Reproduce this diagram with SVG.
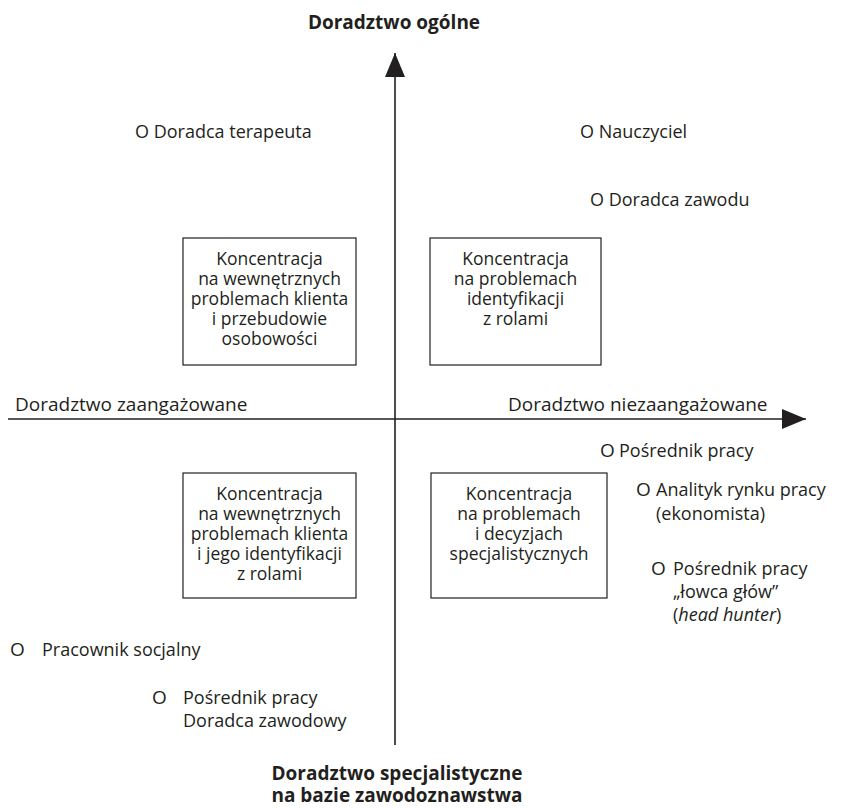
<svg xmlns="http://www.w3.org/2000/svg" width="852" height="811" viewBox="0 0 852 811">
  <style>
    text { font-family: "Open Sans", "Noto Sans", "DejaVu Sans", sans-serif; font-size: 18px; fill: #231f20; }
    .ax { font-size: 19px; }
    .b { font-weight: bold; font-size: 19px; }
    .c { text-anchor: middle; }
    .in { font-size: 17.5px; }
    .o { font-weight: 500; font-size: 19px; }
    .box { fill: #ffffff; stroke: #231f20; stroke-width: 1.2; }
    .axis { stroke: #231f20; stroke-width: 1.6; fill: none; }
  </style>
  <defs>
    <marker id="arrow" viewBox="0 0 24 20" refX="24" refY="10" markerWidth="24" markerHeight="20" markerUnits="userSpaceOnUse" orient="auto">
      <path d="M0,0 L24,10 L0,20 Z" fill="#231f20"/>
    </marker>
  </defs>
  <rect width="852" height="811" fill="#ffffff"/>

  <!-- axes -->
  <g id="connectors">
    <line class="axis" x1="395" y1="745" x2="395" y2="53" marker-end="url(#arrow)"/>
    <line class="axis" x1="8" y1="419" x2="806" y2="419" marker-end="url(#arrow)"/>
  </g>

  <!-- axis labels -->
  <g id="axis-top"><text class="b c" x="394" y="29">Doradztwo ogólne</text></g>
  <g id="axis-bottom">
    <text class="b c" x="397" y="780">Doradztwo specjalistyczne</text>
    <text class="b c" x="397" y="802">na bazie zawodoznawstwa</text>
  </g>
  <g id="axis-left"><text class="ax" x="15" y="411">Doradztwo zaangażowane</text></g>
  <g id="axis-right"><text class="ax" x="508" y="411">Doradztwo niezaangażowane</text></g>

  <!-- quadrant boxes -->
  <g id="box-tl">
    <rect class="box" x="183" y="238" width="173" height="127"/>
    <text class="in c" x="269.5" y="265">Koncentracja</text>
    <text class="in c" x="269.5" y="285">na wewnętrznych</text>
    <text class="in c" x="269.5" y="305">problemach klienta</text>
    <text class="in c" x="269.5" y="325">i przebudowie</text>
    <text class="in c" x="269.5" y="345">osobowości</text>
  </g>
  <g id="box-tr">
    <rect class="box" x="430" y="238" width="171" height="127"/>
    <text class="in c" x="515.5" y="265">Koncentracja</text>
    <text class="in c" x="515.5" y="285">na problemach</text>
    <text class="in c" x="515.5" y="305">identyfikacji</text>
    <text class="in c" x="515.5" y="325">z rolami</text>
  </g>
  <g id="box-bl">
    <rect class="box" x="183" y="473" width="173" height="125"/>
    <text class="in c" x="269.5" y="500">Koncentracja</text>
    <text class="in c" x="269.5" y="520">na wewnętrznych</text>
    <text class="in c" x="269.5" y="540">problemach klienta</text>
    <text class="in c" x="269.5" y="560">i jego identyfikacji</text>
    <text class="in c" x="269.5" y="580">z rolami</text>
  </g>
  <g id="box-br">
    <rect class="box" x="431" y="473" width="176" height="125"/>
    <text class="in c" x="519" y="500">Koncentracja</text>
    <text class="in c" x="519" y="520">na problemach</text>
    <text class="in c" x="519" y="540">i decyzjach</text>
    <text class="in c" x="519" y="560">specjalistycznych</text>
  </g>

  <!-- roles -->
  <g id="role-terapeuta"><text x="135" y="138">O Doradca terapeuta</text></g>
  <g id="role-nauczyciel"><text x="580" y="138">O Nauczyciel</text></g>
  <g id="role-doradca-zawodu"><text x="590" y="206">O Doradca zawodu</text></g>
  <g id="role-posrednik-1">
    <text class="o" x="600" y="457">O</text>
    <text x="619" y="457">Pośrednik pracy</text>
  </g>
  <g id="role-analityk">
    <text class="o" x="636" y="496">O</text>
    <text x="656" y="496">Analityk rynku pracy</text>
    <text x="656" y="520">(ekonomista)</text>
  </g>
  <g id="role-posrednik-2">
    <text class="o" x="651" y="575">O</text>
    <text x="673" y="575">Pośrednik pracy</text>
    <text x="673" y="598">„łowca głów”</text>
    <text x="673" y="621">(<tspan font-style="italic">head hunter</tspan>)</text>
  </g>
  <g id="role-pracownik">
    <text class="o" x="10" y="656">O</text>
    <text x="42" y="656">Pracownik socjalny</text>
  </g>
  <g id="role-posrednik-3">
    <text class="o" x="152" y="704">O</text>
    <text x="183" y="704">Pośrednik pracy</text>
    <text x="183" y="727">Doradca zawodowy</text>
  </g>
</svg>
